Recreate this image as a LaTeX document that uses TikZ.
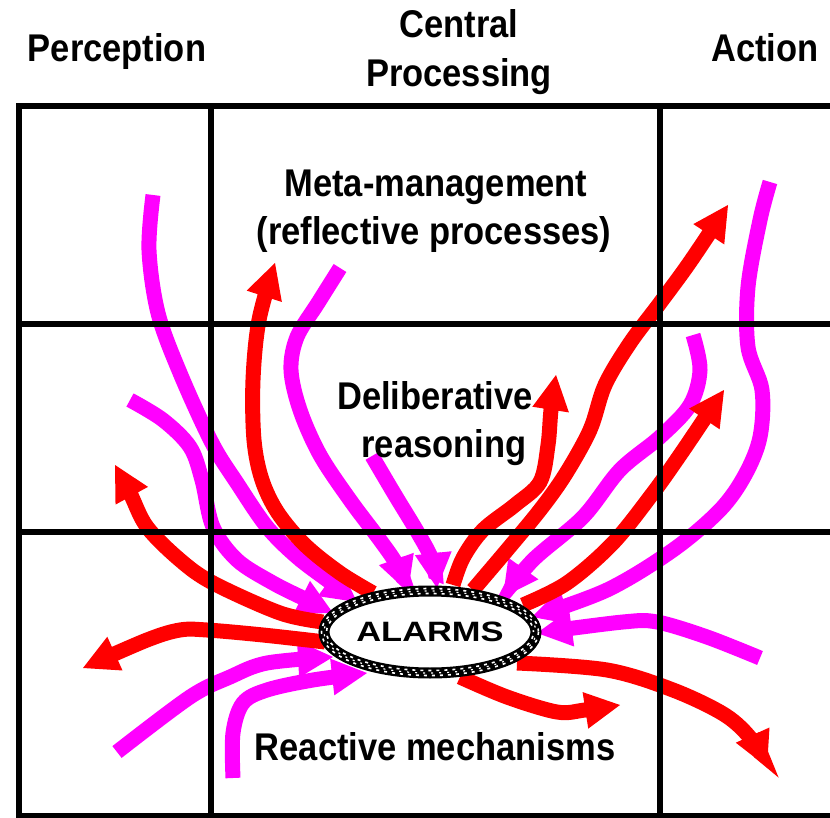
\documentclass[tikz,border=0pt]{standalone}
\usepackage{fontspec}
\setmainfont{Liberation Sans}
\usepackage{graphicx}
\usetikzlibrary{arrows.meta,shapes.geometric}
\definecolor{mag}{RGB}{255,0,255}
\definecolor{rd}{RGB}{255,0,0}
\newcommand{\ys}[1]{\scalebox{1}[1.12]{#1}}
\begin{document}
\begin{tikzpicture}[x=1pt,y=-1pt,
  lbl/.style={font=\fontsize{34.5}{40}\selectfont\bfseries, inner sep=0pt, anchor=base},
  gridline/.style={line width=6pt, black},
  redarr/.style={draw=rd, line width=15pt, -{Triangle[length=35pt,width=37pt,line width=0pt]}, fill=none},
  magarr/.style={draw=mag, line width=15pt, -{Triangle[length=35pt,width=37pt,line width=0pt]}, fill=none},
  sm/.style={smooth, tension=0.55}
]
\useasboundingbox (0,0) rectangle (830,818);
\clip (0,0) rectangle (830,818);

% end points
\coordinate (r1a) at (323,622); \coordinate (r1b) at (115,465);
\coordinate (r2a) at (325,642); \coordinate (r2b) at (83,668);
\coordinate (r3a) at (373,593); \coordinate (r3b) at (275,263);
\coordinate (r4a) at (453,585); \coordinate (r4b) at (556,375);
\coordinate (r5a) at (473,590); \coordinate (r5b) at (728,205);
\coordinate (r6a) at (523,605); \coordinate (r6b) at (724,390);
\coordinate (r7a) at (517,663); \coordinate (r7b) at (767,767);
\coordinate (r8a) at (460,677); \coordinate (r8b) at (620,705);
\coordinate (m1a) at (153,195); \coordinate (m1b) at (357,602);
\coordinate (m2a) at (130,400); \coordinate (m2b) at (333,613);
\coordinate (m3a) at (340,268); \coordinate (m3b) at (408,592);
\coordinate (m4a) at (372,456); \coordinate (m4b) at (437,588);
\coordinate (m5a) at (693,335); \coordinate (m5b) at (503,597);
\coordinate (m6a) at (770,182); \coordinate (m6b) at (532,617);
\coordinate (m7a) at (760,658); \coordinate (m7b) at (537,633);
\coordinate (m8a) at (117,752); \coordinate (m8b) at (333,657);
\coordinate (m9a) at (233,778); \coordinate (m9b) at (367,673);

% magenta (incoming)
\draw[magarr] plot[sm] coordinates {(m1a) (149,250) (158,313) (180,373) (212,443) (237,483) (267,527) (297,557) (330,582) (m1b)};
\draw[magarr] plot[sm] coordinates {(m2a) (163,420) (190,447) (202,480) (213,527) (237,560) (273,583) (307,600) (m2b)};
\draw[magarr] plot[sm] coordinates {(m3a) (318,303) (297,337) (291,370) (300,410) (320,455) (350,500) (380,540) (397,565) (m3b)};
\draw[magarr] plot[sm] coordinates {(m4a) (395,495) (418,533) (432,560) (m4b)};
\draw[magarr] plot[sm] coordinates {(m5a) (700,370) (690,405) (660,437) (620,470) (583,517) (533,560) (m5b)};
\draw[magarr] plot[sm] coordinates {(m6a) (760,220) (748,287) (748,347) (762,390) (760,437) (745,475) (720,510) (673,550) (607,590) (m6b)};
\draw[magarr] plot[sm] coordinates {(m7a) (707,637) (657,622) (623,622) (m7b)};
\draw[magarr] plot[sm] coordinates {(m8a) (190,697) (230,677) (267,663) (m8b)};
\draw[magarr] plot[sm] coordinates {(m9a) (233,733) (243,703) (267,690) (313,680) (m9b)};

% red (outgoing)
\draw[redarr] plot[sm] coordinates {(r1a) (280,613) (213,583) (180,560) (147,527) (130,493) (r1b)};
\draw[redarr] plot[sm] coordinates {(r2a) (263,635) (207,630) (180,630) (147,640) (r2b)};
\draw[redarr] plot[sm] coordinates {(r3a) (340,573) (305,545) (278,513) (262,480) (254,440) (253,380) (259,320) (r3b)};
\draw[redarr] plot[sm] coordinates {(r4a) (463,558) (483,530) (515,505) (540,482) (548,445) (551,410) (r4b)};
\draw[redarr] plot[sm] coordinates {(r5a) (507,550) (540,510) (565,475) (590,430) (605,385) (630,343) (660,303) (690,262) (r5b)};
\draw[redarr] plot[sm] coordinates {(r6a) (567,583) (613,543) (653,493) (680,455) (705,418) (r6b)};
\draw[redarr] plot[sm] coordinates {(r7a) (607,670) (673,690) (725,715) (752,740) (r7b)};
\draw[redarr] plot[sm] coordinates {(r8a) (507,697) (557,712) (585,710) (r8b)};

% grid
\draw[gridline] (19,106) rectangle (850,816);
\draw[gridline] (211,106) -- (211,816);
\draw[gridline] (660,106) -- (660,816);
\draw[gridline] (19,324) -- (850,324);
\draw[gridline] (19,532) -- (850,532);

% alarms
\node[ellipse, fill=white, minimum width=210pt, minimum height=80pt, inner sep=0pt,
      font=\fontsize{28}{30}\selectfont\bfseries] (al) at (430,632) {\scalebox{1.23}[1]{ALARMS}};
\draw[black, line width=11pt] (al.center) ellipse [x radius=106, y radius=41];
\draw[white, line width=1.6pt, dash pattern=on 3pt off 5pt] (al.center) ellipse [x radius=108.5, y radius=43.5];
\draw[white, line width=1.6pt, dash pattern=on 3pt off 5pt, dash phase=4pt] (al.center) ellipse [x radius=103.5, y radius=38.5];
\draw[white, line width=1.2pt, dash pattern=on 2pt off 6pt, dash phase=2pt] (al.center) ellipse [x radius=106, y radius=41];

% labels
\node[lbl] (perc) at (117,62) {\ys{Perception}};
\node[lbl] (cent) at (459,38) {\ys{Central}};
\node[lbl] (proc) at (459,87) {\ys{Processing}};
\node[lbl] (act) at (765,62) {\ys{Action}};
\node[lbl] (meta) at (436,197) {\ys{Meta-management}};
\node[lbl] (refl) at (434,245) {\ys{(reflective processes)}};
\node[lbl] (delib) at (435,409) {\ys{Deliberative}};
\node[lbl] (reas) at (444,457) {\ys{reasoning}};
\node[lbl] (react) at (435,760) {\ys{Reactive mechanisms}};
\end{tikzpicture}
\end{document}
